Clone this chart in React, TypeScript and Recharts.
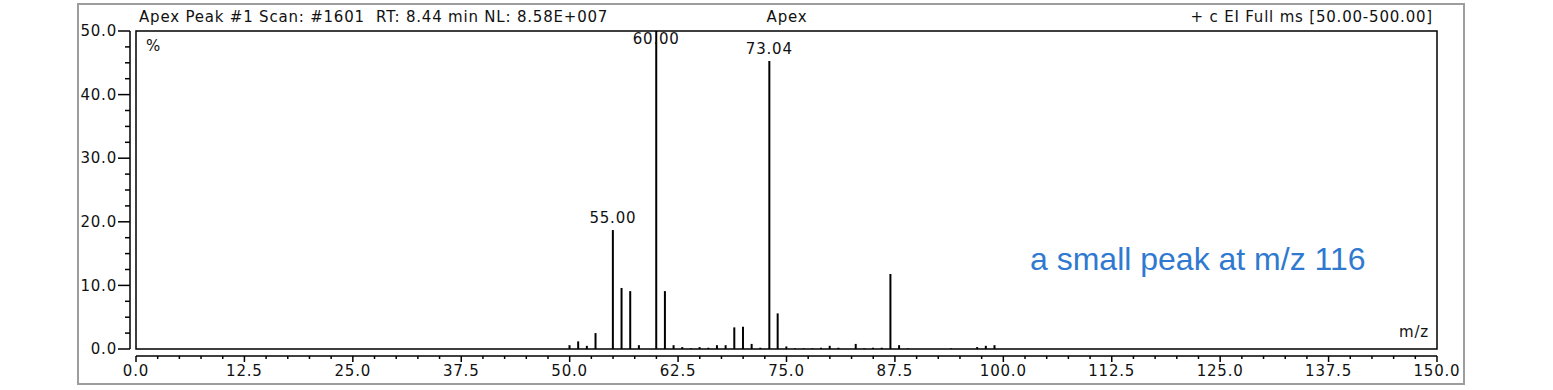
import React from 'react';
import { ComposedChart, Bar, XAxis, YAxis, ReferenceArea, LabelList } from 'recharts';

// m/z positions of the centroided peaks and their relative abundance (%)
const mzValues = [
  50, 51, 52, 53, 55, 56, 57, 58, 60, 61, 62, 63, 64, 65, 66, 67, 68, 69, 70, 71,
  72, 73.04, 74, 75, 76, 77, 78, 79, 80, 81, 83, 84, 85, 86, 87, 88, 89, 94, 97, 98, 99,
];
const intensities = [
  0.6, 1.2, 0.5, 2.5, 18.7, 9.6, 9.1, 0.6, 100, 9.1, 0.6, 0.3, 0.1, 0.3, 0.2, 0.6, 0.6, 3.4, 3.5, 0.8,
  0.2, 45.3, 5.6, 0.4, 0.1, 0.1, 0.1, 0.2, 0.5, 0.2, 0.8, 0.1, 0.2, 0.2, 11.8, 0.6, 0.1, 0.1, 0.3, 0.5, 0.6,
];
const labelledMz = [55, 60, 73.04];

const xMajorTicks = [0, 12.5, 25, 37.5, 50, 62.5, 75, 87.5, 100, 112.5, 125, 137.5, 150];
const yMajorTicks = [0, 10, 20, 30, 40, 50];

// minor ticks every 2.5 between the labelled ones
const withMinor = (majors: number[]) => {
  const out: number[] = [];
  for (let i = 0; i < majors.length - 1; i++) {
    const gap = majors[i + 1] - majors[i];
    const step = gap / (gap > 10 ? 5 : 4);
    for (let v = majors[i]; v < majors[i + 1] - 1e-6; v += step) out.push(+v.toFixed(3));
  }
  out.push(majors[majors.length - 1]);
  return out;
};
const xTicks = withMinor(xMajorTicks);
const yTicks = withMinor(yMajorTicks);

const data = mzValues.map((mz, i) => ({
  mz,
  intensity: intensities[i],
  label: labelledMz.includes(mz) ? mz.toFixed(2) : '',
}));

const FONT = '"DejaVu Sans", sans-serif';
const LS = 0.8;
const W = 1553;
const H = 390;
const M = { top: 31, right: 116, bottom: 21, left: 116 };

const XTick = ({ x, y, payload }: any) => {
  const v = payload.value as number;
  const major = xMajorTicks.some((t) => Math.abs(t - v) < 1e-6);
  return (
    <g>
      <line x1={x} x2={x} y1={y + 7} y2={y + (major ? 13 : 10)} stroke="#000" strokeWidth={1.5} />
      {major && (
        <text x={x} y={y + 27} textAnchor="middle" fontFamily={FONT} fontSize={15} letterSpacing={LS} fill="#111">
          {v.toFixed(1)}
        </text>
      )}
    </g>
  );
};

const YTick = ({ x, y, payload }: any) => {
  const v = payload.value as number;
  const major = yMajorTicks.some((t) => Math.abs(t - v) < 1e-6);
  return (
    <g>
      <line x1={x - 6} x2={x - (major ? 18 : 11)} y1={y} y2={y} stroke="#000" strokeWidth={1.5} />
      {major && (
        <text x={x - 19} y={y} dy="0.35em" textAnchor="end" fontFamily={FONT} fontSize={15} letterSpacing={LS} fill="#111">
          {v.toFixed(1)}
        </text>
      )}
    </g>
  );
};

const PeakLabel = ({ x, y, width, value }: any) => {
  if (!value) return null;
  const baseline = Math.max(y - 7, M.top + 13);
  return (
    <text x={x + width / 2} y={baseline} textAnchor="middle" fontFamily={FONT} fontSize={15} letterSpacing={LS} fill="#111">
      {value}
    </text>
  );
};

export default function App() {
  return (
    <div style={{ position: 'absolute', left: 0, top: 0, width: W, height: H, background: '#fff' }}>
      <div
        style={{
          position: 'absolute',
          left: 77,
          top: 3,
          width: 1388,
          height: 382,
          boxSizing: 'border-box',
          border: '2px solid #9d9d9d',
        }}
      />
      <ComposedChart width={W} height={H} data={data} margin={M}>
        <XAxis
          dataKey="mz"
          type="number"
          domain={[0, 150]}
          ticks={xTicks}
          interval={0}
          allowDataOverflow
          height={20}
          tickSize={0}
          tickMargin={0}
          tickLine={false}
          tick={<XTick />}
          axisLine={{ stroke: '#000', strokeWidth: 1.5, transform: 'translate(0,7)' }}
        />
        <YAxis
          type="number"
          domain={[0, 50]}
          ticks={yTicks}
          interval={0}
          allowDataOverflow
          width={20}
          tickSize={0}
          tickMargin={0}
          tickLine={false}
          tick={<YTick />}
          axisLine={{ stroke: '#000', strokeWidth: 1.5, transform: 'translate(-6,0)' }}
        />
        <ReferenceArea x1={0} x2={150} y1={0} y2={50} fill="none" stroke="#000" strokeWidth={1.5} />
        <Bar dataKey="intensity" fill="#000" barSize={2} isAnimationActive={false}>
          <LabelList dataKey="label" content={<PeakLabel />} />
        </Bar>
      </ComposedChart>
      <svg
        width={W}
        height={H}
        style={{ position: 'absolute', left: 0, top: 0, pointerEvents: 'none' }}
      >
        <g fontFamily={FONT} fontSize={15} letterSpacing={LS} fill="#111">
          <text x={139} y={22} xmlSpace="preserve" style={{ whiteSpace: 'pre' }}>
            {'Apex Peak #1 Scan: #1601  RT: 8.44 min NL: 8.58E+007'}
          </text>
          <text x={787} y={22} textAnchor="middle">Apex</text>
          <text x={1433} y={22} textAnchor="end">+ c EI Full ms [50.00-500.00]</text>
          <text x={146} y={51}>%</text>
          <text x={1429} y={337} textAnchor="end">m/z</text>
        </g>
        <text x={1030} y={270} fontFamily='"Liberation Sans", Arial, sans-serif' fontSize={32} fill="#2f7ad0">
          a small peak at m/z 116
        </text>
      </svg>
    </div>
  );
}
